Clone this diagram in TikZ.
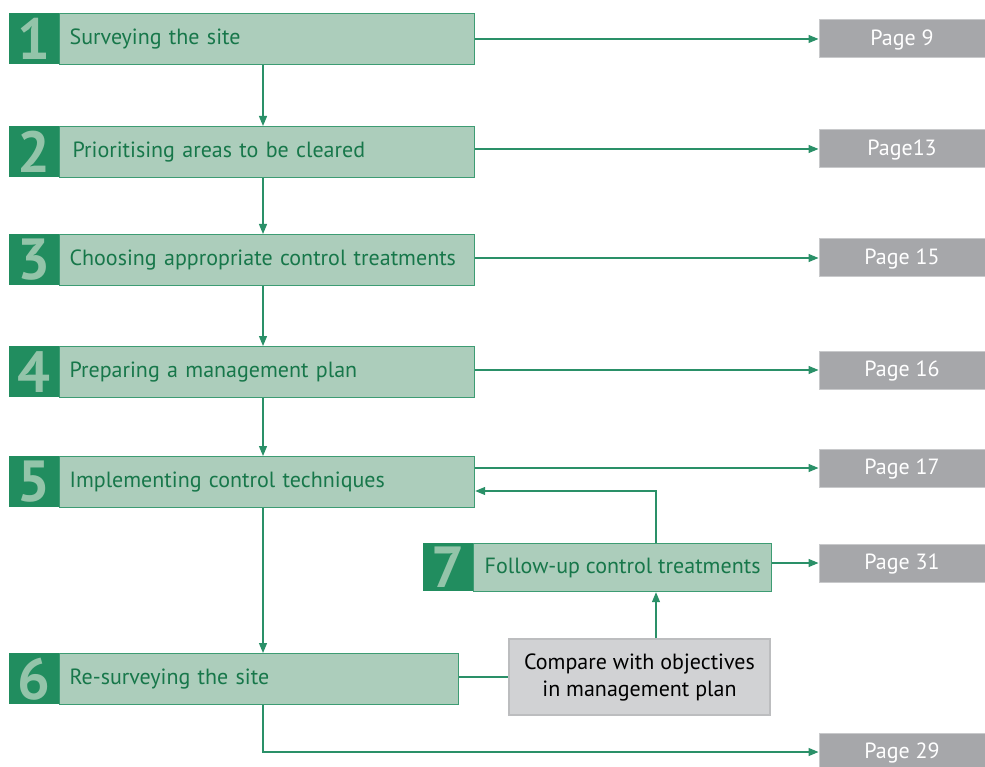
\documentclass[tikz,border=0pt]{standalone}
\usepackage{fontspec}
\setmainfont{PT Sans}
\usepackage{xcolor}
\usepackage{tikz}
\usetikzlibrary{calc,arrows.meta}

\definecolor{stepdark}{HTML}{218D5F}
\definecolor{steplight}{HTML}{ACCDBB}
\definecolor{stepline}{HTML}{3D9C73}
\definecolor{steptext}{HTML}{17774A}
\definecolor{numtext}{HTML}{93C4A9}
\definecolor{pagegray}{HTML}{A6A7AA}
\definecolor{pageline}{HTML}{C8C9CB}
\definecolor{cmpgray}{HTML}{D1D2D4}
\definecolor{cmpline}{HTML}{BCBDBF}
\definecolor{flowgreen}{HTML}{2A9068}

\tikzset{
  stepbox/.style={draw=stepline, line width=1.2pt, fill=steplight, text=steptext,
    anchor=north west, minimum height=51pt, inner xsep=10pt, align=left,
    font=\fontsize{22}{26}\selectfont},
  numbox/.style={fill=stepdark, text=numtext, anchor=north east, inner sep=0pt,
    minimum width=50pt, minimum height=51pt, font=\fontsize{58}{58}\selectfont\bfseries},
  pagebox/.style={draw=pageline, line width=1pt, fill=pagegray, text=white,
    minimum width=166pt, minimum height=38pt, text depth=2pt,
    font=\fontsize{22}{26}\selectfont},
  cmpbox/.style={draw=cmpline, line width=1.2pt, fill=cmpgray, text=black,
    minimum width=261pt, minimum height=76pt, align=center,
    font=\fontsize{22}{27}\selectfont},
  flow/.style={draw=flowgreen, line width=1.2pt, -{Triangle[length=10pt,width=8pt]}},
  link/.style={draw=flowgreen, line width=1.2pt}
}

\begin{document}
\begin{tikzpicture}[x=1pt,y=-1pt]
                    \useasboundingbox (0,0) rectangle (985,767);

                    % Steps
                    \node[stepbox, text width=395pt] (s1) at (59,13) {Surveying the site};
                    \node[stepbox, text width=395pt] (s2) at (59,126) {\hspace{3pt}Prioritising areas to be cleared};
                    \node[stepbox, text width=395pt] (s3) at (59,234) {Choosing appropriate control treatments};
                    \node[stepbox, text width=395pt] (s4) at (59,346) {Preparing a management plan};
                    \node[stepbox, text width=395pt] (s5) at (59,456) {Implementing control techniques};
                    \node[stepbox, text width=379pt] (s6) at (59,653) {Re-surveying the site};
                    \node[stepbox, minimum width=298pt, minimum height=48pt] (s7) at (473,543) {Follow-up control treatments};

                    % Step numbers
                    \foreach \i in {1,...,6}
                      \node[numbox] (n\i) at (s\i.north west) {\i};
                    \node[numbox, minimum height=48pt] (n7) at (s7.north west) {7};

                    % Page references
                    \node[pagebox] (p9)  at (902,39)  {Page 9};
                    \node[pagebox] (p13) at (902,149) {Page13};
                    \node[pagebox] (p15) at (902,258) {Page 15};
                    \node[pagebox] (p16) at (902,370) {Page 16};
                    \node[pagebox] (p17) at (902,468) {Page 17};
                    \node[pagebox] (p31) at (902,563) {Page 31};
                    \node[pagebox] (p29) at (902,752) {Page 29};

                    % Comparison
                    \node[cmpbox] (cmp) at (639.5,677) {Compare with objectives\\in management plan};

                    \coordinate (spine) at (263,0);
                    \coordinate (loop) at (656,491);

                    % Down the steps
                    \foreach \a/\b in {s1/s2,s2/s3,s3/s4,s4/s5,s5/s6}
                      \draw[flow] (\a.south -| spine) -- (\b.north -| spine);

                    % Out to the pages
                    \draw[flow] (p9.west -| s1.east) -- (p9.west);
                    \draw[flow] (p13.west -| s2.east) -- (p13.west);
                    \draw[flow] (p15.west -| s3.east) -- (p15.west);
                    \draw[flow] (p16.west -| s4.east) -- (p16.west);
                    \draw[flow] (p17.west -| s5.east) -- (p17.west);
                    \draw[flow] (p31.west -| s7.east) -- (p31.west);
                    \draw[flow] (s6.south -| spine) |- (p29.west);

                    % Follow-up loop
                    \draw[link] (s6.east |- cmp.west) -- (cmp.west);
                    \draw[flow] (cmp.north -| loop) -- (s7.south -| loop);
                    \draw[flow] (s7.north -| loop) |- (s5.east |- loop);
                \end{tikzpicture}
\end{document}
